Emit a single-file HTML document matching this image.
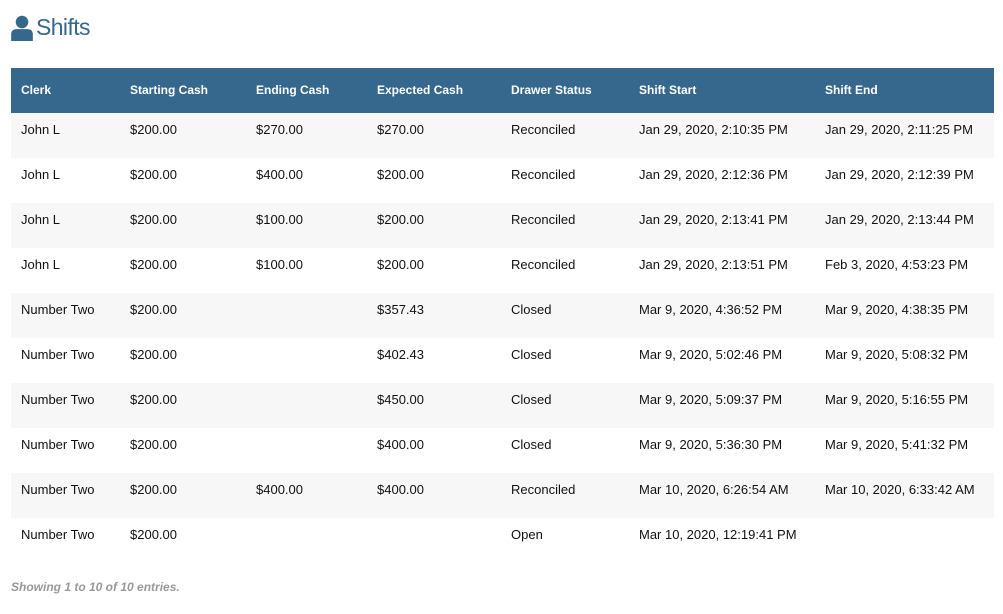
<!DOCTYPE html>
<html><head><style>
body{margin:0;background:#fff;font-family:"Liberation Sans",Arial,sans-serif;}
h1{position:absolute;left:11px;top:14px;margin:0;font-size:23px;font-weight:normal;color:#36678c;letter-spacing:-0.6px;display:flex;align-items:center}
table{position:absolute;left:11px;top:68px;width:983px;border-collapse:collapse;font-size:13px;color:#111}
th{background:#36678c;color:#fff;font-size:12px;font-weight:bold;text-align:left;height:44px;padding:0 0 1px 10px}
td{height:45px;padding:9px 0 0 10px;vertical-align:top;box-sizing:border-box}
tbody tr:nth-child(odd) td{background:#f7f7f7}
.f{position:absolute;left:11px;top:580px;font-size:12px;font-style:italic;font-weight:bold;color:#999}
</style></head><body>
<h1><svg width="22" height="26" viewBox="0 0 20 24" style="margin-right:3px"><circle cx="10" cy="6.5" r="5.8" fill="#36678c"/><path d="M0 24 V18 Q0 13 5 13 H15 Q20 13 20 18 V24 Z" fill="#36678c"/></svg>Shifts</h1>
<table>
<colgroup><col style="width:109px"><col style="width:126px"><col style="width:121px"><col style="width:134px"><col style="width:128px"><col style="width:186px"><col></colgroup>
<thead><tr><th>Clerk</th><th>Starting Cash</th><th>Ending Cash</th><th>Expected Cash</th><th>Drawer Status</th><th>Shift Start</th><th>Shift End</th></tr></thead>
<tbody>
<tr><td>John L</td><td>$200.00</td><td>$270.00</td><td>$270.00</td><td>Reconciled</td><td>Jan 29, 2020, 2:10:35 PM</td><td>Jan 29, 2020, 2:11:25 PM</td></tr>
<tr><td>John L</td><td>$200.00</td><td>$400.00</td><td>$200.00</td><td>Reconciled</td><td>Jan 29, 2020, 2:12:36 PM</td><td>Jan 29, 2020, 2:12:39 PM</td></tr>
<tr><td>John L</td><td>$200.00</td><td>$100.00</td><td>$200.00</td><td>Reconciled</td><td>Jan 29, 2020, 2:13:41 PM</td><td>Jan 29, 2020, 2:13:44 PM</td></tr>
<tr><td>John L</td><td>$200.00</td><td>$100.00</td><td>$200.00</td><td>Reconciled</td><td>Jan 29, 2020, 2:13:51 PM</td><td>Feb 3, 2020, 4:53:23 PM</td></tr>
<tr><td>Number Two</td><td>$200.00</td><td></td><td>$357.43</td><td>Closed</td><td>Mar 9, 2020, 4:36:52 PM</td><td>Mar 9, 2020, 4:38:35 PM</td></tr>
<tr><td>Number Two</td><td>$200.00</td><td></td><td>$402.43</td><td>Closed</td><td>Mar 9, 2020, 5:02:46 PM</td><td>Mar 9, 2020, 5:08:32 PM</td></tr>
<tr><td>Number Two</td><td>$200.00</td><td></td><td>$450.00</td><td>Closed</td><td>Mar 9, 2020, 5:09:37 PM</td><td>Mar 9, 2020, 5:16:55 PM</td></tr>
<tr><td>Number Two</td><td>$200.00</td><td></td><td>$400.00</td><td>Closed</td><td>Mar 9, 2020, 5:36:30 PM</td><td>Mar 9, 2020, 5:41:32 PM</td></tr>
<tr><td>Number Two</td><td>$200.00</td><td>$400.00</td><td>$400.00</td><td>Reconciled</td><td>Mar 10, 2020, 6:26:54 AM</td><td>Mar 10, 2020, 6:33:42 AM</td></tr>
<tr><td>Number Two</td><td>$200.00</td><td></td><td></td><td>Open</td><td>Mar 10, 2020, 12:19:41 PM</td><td></td></tr>
</tbody></table>
<div class="f">Showing 1 to 10 of 10 entries.</div>
</body></html>
